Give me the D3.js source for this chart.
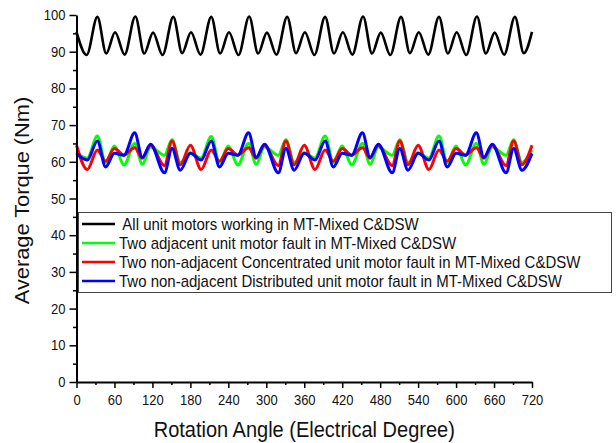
<!DOCTYPE html>
<html>
<head>
<meta charset="utf-8">
<script src="https://cdn.jsdelivr.net/npm/d3@7"></script>
<style>
  html, body { margin: 0; padding: 0; background: #fff; }
  svg { display: block; font-family: Arial, "Liberation Sans", sans-serif; }
</style>
</head>
<body>
<svg id="chart" width="616" height="443"></svg>
<script>
// Rotation angle (electrical degrees) and average torque (Nm) for each case
const healthyAngles = [0, 16, 33, 47, 61, 76, 93, 107, 121, 136, 153, 167, 181, 196, 213, 227,
  241, 256, 273, 287, 301, 316, 333, 347, 361, 376, 393, 407, 421, 436, 453, 467,
  481, 496, 513, 527, 541, 556, 573, 587, 601, 616, 633, 647, 661, 676, 693, 707, 720];
const healthyTorque = [95.4, 89.1, 99.5, 89.5, 95.3, 89.2, 99.6, 89.5, 95.2, 89.1, 99.5, 89.6,
  95.3, 89.2, 99.5, 89.5, 95.3, 89.1, 99.6, 89.5, 95.2, 89.2, 99.5, 89.6,
  95.3, 89.1, 99.5, 89.5, 95.3, 89.2, 99.6, 89.5, 95.2, 89.1, 99.5, 89.6,
  95.3, 89.2, 99.5, 89.5, 95.3, 89.1, 99.6, 89.5, 95.2, 89.2, 99.5, 89.6, 95.4];

const faultAngles = [0, 17, 33, 46, 60, 75, 92, 104, 117, 139, 151, 164,
  180, 197, 213, 226, 240, 255, 272, 284, 297, 319, 331, 344,
  360, 377, 393, 406, 420, 435, 452, 464, 477, 499, 511, 524,
  540, 557, 573, 586, 600, 615, 632, 644, 657, 679, 691, 704, 720];
const adjacentTorque = [62.5, 61.0, 67.0, 59.8, 64.3, 59.1, 65.0, 59.3, 64.0, 61.8, 66.0, 59.8,
  62.5, 61.0, 66.9, 59.8, 64.3, 59.1, 65.0, 59.3, 64.0, 61.8, 66.0, 59.8,
  62.5, 61.0, 67.0, 59.8, 64.3, 59.1, 65.0, 59.3, 64.0, 61.8, 66.0, 59.8,
  62.5, 61.0, 67.0, 59.8, 64.3, 59.1, 65.0, 59.3, 64.0, 61.8, 66.0, 59.8, 63.2];
const concentratedTorque = [64.5, 57.9, 63.2, 60.2, 63.6, 61.8, 63.8, 61.0, 64.5, 59.0, 65.7, 59.2,
  64.5, 57.9, 63.2, 60.2, 63.6, 61.8, 63.8, 61.0, 64.5, 59.0, 65.7, 59.2,
  64.5, 57.9, 63.2, 60.2, 63.6, 61.8, 63.8, 61.0, 64.5, 59.0, 65.7, 59.2,
  64.5, 57.9, 63.2, 60.2, 63.6, 61.8, 63.8, 61.0, 64.5, 59.0, 65.7, 59.2, 64.5];
const distributedTorque = [62.3, 60.5, 65.7, 58.6, 62.3, 61.8, 67.9, 61.2, 64.8, 57.0, 63.6, 57.7,
  62.3, 60.5, 65.7, 58.6, 62.3, 61.8, 67.9, 61.2, 64.8, 57.0, 63.6, 57.7,
  62.3, 60.5, 65.7, 58.6, 62.3, 61.8, 67.9, 61.2, 64.8, 57.0, 63.6, 57.7,
  62.3, 60.5, 65.7, 58.6, 62.3, 61.8, 67.9, 61.2, 64.8, 57.0, 63.6, 57.7, 62.3];

const xTicks = [0, 60, 120, 180, 240, 300, 360, 420, 480, 540, 600, 660, 720];
const xMinorTicks = [30, 90, 150, 210, 270, 330, 390, 450, 510, 570, 630, 690];
const yTicks = [0, 10, 20, 30, 40, 50, 60, 70, 80, 90, 100];
const yMinorTicks = [5, 15, 25, 35, 45, 55, 65, 75, 85, 95];

const seriesNames = [
  " All unit motors working in MT-Mixed C&DSW",
  "Two adjacent unit motor fault in MT-Mixed C&DSW",
  "Two non-adjacent Concentrated unit motor fault in MT-Mixed C&DSW",
  "Two non-adjacent Distributed unit motor fault in MT-Mixed C&DSW"
];
const seriesColors = ["#000000", "#00ff00", "#ff0000", "#0000ff"];

const xLabel = "Rotation Angle (Electrical Degree)";
const yLabel = "Average Torque (Nm)";

// Text in this figure is slightly taller than it is wide
const stretch = 1.09;

const svg = d3.select("#chart");
const plotLeft = 76.5, plotRight = 532, plotTop = 15, plotBottom = 382;

const x = d3.scaleLinear().domain([0, 720]).range([plotLeft, plotRight]);
const y = d3.scaleLinear().domain([0, 100]).range([plotBottom, plotTop]);

const series = [
  { values: healthyTorque, angles: healthyAngles, width: 2.6 },
  { values: adjacentTorque, angles: faultAngles, width: 3 },
  { values: concentratedTorque, angles: faultAngles, width: 3 },
  { values: distributedTorque, angles: faultAngles, width: 3 }
];

const line = d3.line()
  .x(d => x(d[0]))
  .y(d => y(d[1]))
  .curve(d3.curveMonotoneX);

// Curves
svg.append("g").selectAll("path")
  .data(series)
  .join("path")
  .attr("fill", "none")
  .attr("stroke", (d, i) => seriesColors[i])
  .attr("stroke-width", d => d.width)
  .attr("stroke-linejoin", "round")
  .attr("d", d => line(d.angles.map((a, j) => [a, d.values[j]])));

// Axes
function styleAxis(g) {
  g.select(".domain").attr("stroke", "#000").attr("stroke-width", 2);
  g.selectAll(".tick line").attr("stroke", "#000").attr("stroke-width", 1.5);
  g.selectAll(".tick text")
    .attr("fill", "#111")
    .attr("font-size", 13)
    .attr("font-family", "Arial, 'Liberation Sans', sans-serif");
}

const xAxis = svg.append("g")
  .attr("transform", `translate(0,${plotBottom})`)
  .call(d3.axisBottom(x).tickValues(xTicks).tickSize(6).tickSizeOuter(0).tickPadding(6).tickFormat(d3.format("d")));
styleAxis(xAxis);
xAxis.selectAll(".tick text").attr("transform", `scale(1,${stretch})`);

svg.append("g")
  .attr("transform", `translate(0,${plotBottom})`)
  .call(d3.axisBottom(x).tickValues(xMinorTicks).tickSize(3).tickFormat(""))
  .call(g => g.select(".domain").remove())
  .call(g => g.selectAll(".tick line").attr("stroke", "#000").attr("stroke-width", 1.5));

const yAxis = svg.append("g")
  .attr("transform", `translate(${plotLeft},0)`)
  .call(d3.axisLeft(y).tickValues(yTicks).tickSize(7).tickSizeOuter(0).tickPadding(4).tickFormat(d3.format("d")));
styleAxis(yAxis);
yAxis.selectAll(".tick text").attr("transform", `scale(1,${stretch})`).attr("dy", "0.32em");

svg.append("g")
  .attr("transform", `translate(${plotLeft},0)`)
  .call(d3.axisLeft(y).tickValues(yMinorTicks).tickSize(3.5).tickFormat(""))
  .call(g => g.select(".domain").remove())
  .call(g => g.selectAll(".tick line").attr("stroke", "#000").attr("stroke-width", 1.5));

// Axis titles
svg.append("text")
  .attr("transform", `translate(${(plotLeft + plotRight) / 2},437) scale(1,${stretch})`)
  .attr("text-anchor", "middle")
  .attr("font-size", 20)
  .attr("fill", "#111")
  .text(xLabel);

svg.append("text")
  .attr("transform", `translate(29,${(plotTop + plotBottom) / 2 + 2}) scale(1,${stretch}) rotate(-90)`)
  .attr("text-anchor", "middle")
  .attr("font-size", 20)
  .attr("fill", "#111")
  .text(yLabel);

// Legend
const legend = svg.append("g");
legend.append("rect")
  .attr("x", 78.5).attr("y", 212.5)
  .attr("width", 533).attr("height", 80)
  .attr("fill", "#fff")
  .attr("stroke", "#444")
  .attr("stroke-width", 1);

const rows = legend.selectAll("g.row")
  .data(seriesNames)
  .join("g")
  .attr("class", "row")
  .attr("transform", (d, i) => `translate(0,${224 + i * 19})`);

rows.append("line")
  .attr("x1", 82).attr("x2", 115)
  .attr("stroke", (d, i) => seriesColors[i])
  .attr("stroke-width", 2.6);

rows.append("text")
  .attr("transform", `translate(119,0) scale(1,${stretch})`)
  .attr("dy", "0.36em")
  .attr("font-size", 15)
  .attr("fill", "#111")
  .style("white-space", "pre")
  .text(d => d);
</script>
</body>
</html>
